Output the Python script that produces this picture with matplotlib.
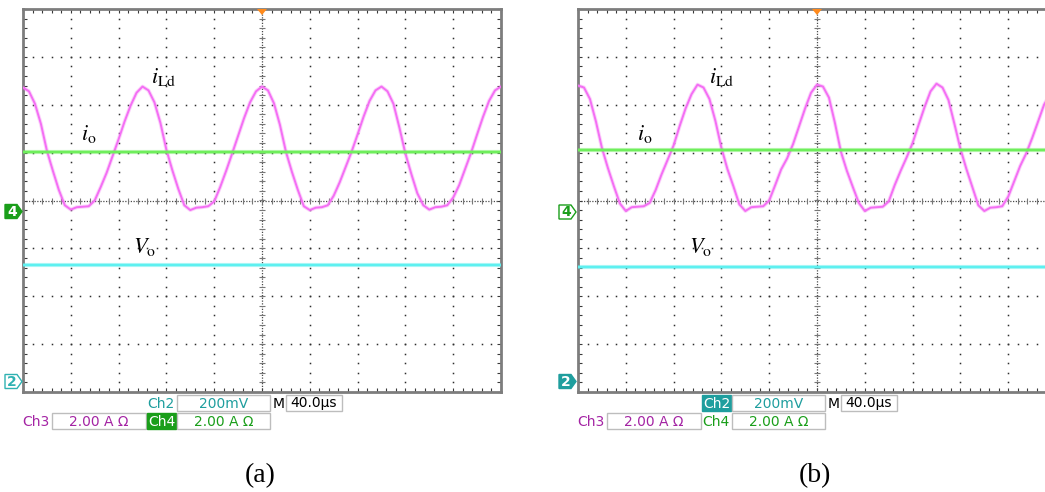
import matplotlib.pyplot as plt
import numpy as np
from matplotlib.patches import Polygon, Rectangle
from matplotlib.ticker import MultipleLocator

plt.rcParams["mathtext.fontset"] = "stix"

# ── Values ───────────────────────────────────────────────────────────────────
# x: time in µs (40 µs/div, 10 div), y: screen divisions (8 div, 0 = centre)
t_us = np.arange(-200, 201, 5)

ild_a = [2.36, 2.28, 2.02, 1.60, 1.04, 0.62, 0.22, -0.10, -0.19, -0.14,
         -0.13, -0.12, 0.00, 0.28, 0.58, 0.93, 1.28, 1.65, 1.98, 2.25,
         2.38, 2.30, 2.05, 1.62, 1.06, 0.63, 0.24, -0.10, -0.20, -0.15,
         -0.14, -0.12, -0.02, 0.28, 0.62, 0.98, 1.35, 1.72, 2.05, 2.28,
         2.38, 2.30, 2.03, 1.58, 1.02, 0.60, 0.22, -0.12, -0.20, -0.15,
         -0.14, -0.10, 0.10, 0.38, 0.70, 1.02, 1.38, 1.75, 2.08, 2.30,
         2.38, 2.28, 2.02, 1.52, 0.98, 0.55, 0.15, -0.10, -0.19, -0.14,
         -0.13, -0.10, 0.06, 0.32, 0.66, 1.00, 1.38, 1.75, 2.08, 2.30,
         2.38]

ild_b = [2.40, 2.36, 2.12, 1.65, 1.10, 0.68, 0.30, -0.06, -0.22, -0.14,
         -0.13, -0.12, -0.05, 0.22, 0.55, 0.85, 1.15, 1.55, 1.92, 2.22,
         2.42, 2.36, 2.12, 1.66, 1.10, 0.66, 0.30, -0.08, -0.22, -0.14,
         -0.13, -0.12, 0.00, 0.32, 0.65, 0.88, 1.18, 1.55, 1.92, 2.25,
         2.42, 2.38, 2.15, 1.62, 1.02, 0.62, 0.28, -0.05, -0.22, -0.15,
         -0.14, -0.13, -0.02, 0.32, 0.62, 0.90, 1.20, 1.58, 1.95, 2.28,
         2.44, 2.36, 2.10, 1.60, 1.08, 0.66, 0.28, -0.10, -0.22, -0.15,
         -0.14, -0.12, 0.08, 0.40, 0.72, 0.98, 1.30, 1.65, 2.00, 2.22,
         2.40]

io_level = {"a": 1.02, "b": 1.05}
vo_level = {"a": -1.35, "b": -1.38}

ch2_scale = "200mV"
ch3_scale = "2.00 A Ω"
ch4_scale = "2.00 A Ω"
time_scale = "40.0µs"

C_ILD = "#f46ef4"
C_IO = "#6fee5c"
C_VO = "#5ef0f0"
C_TEAL = "#1f9e9e"
C_PURPLE = "#a424a4"
C_GREEN = "#1a9e1a"

W, H = 1045, 492
fig = plt.figure(figsize=(W / 100, H / 100), dpi=100)
fig.patch.set_facecolor("white")


def px_axes(left, top, width, height):
    return fig.add_axes([left / W, 1 - (top + height) / H, width / W, height / H])


def draw_graticule(ax):
    dot = dict(ls="none", marker="s", ms=1.1, mew=0, color="#2e2e2e", zorder=1)
    minor_x = np.arange(-200, 201, 8)
    minor_y = np.arange(-4, 4.001, 0.2)
    for gx in range(-160, 161, 40):
        if gx != 0:
            ax.plot(np.full(len(minor_y), gx), minor_y, **dot)
    for gy in range(-3, 4):
        if gy != 0:
            ax.plot(minor_x, np.full(len(minor_x), gy), **dot)
    # centre cross with 0.2 div tick marks
    ax.axhline(0, color="#4a4a4a", lw=0.9, ls=(0, (1, 1.2)), zorder=1)
    ax.axvline(0, color="#4a4a4a", lw=0.9, ls=(0, (1, 1.2)), zorder=1)
    ax.plot(minor_x, np.zeros(len(minor_x)), ls="none", marker="|", ms=4.5,
            mew=0.8, color="#777777", zorder=1)
    ax.plot(np.zeros(len(minor_y)), minor_y, ls="none", marker="_", ms=4.5,
            mew=0.8, color="#777777", zorder=1)

    ax.set_xlim(-200, 200)
    ax.set_ylim(-4, 4)
    ax.xaxis.set_major_locator(MultipleLocator(40))
    ax.xaxis.set_minor_locator(MultipleLocator(8))
    ax.yaxis.set_major_locator(MultipleLocator(1))
    ax.yaxis.set_minor_locator(MultipleLocator(0.2))
    ax.tick_params(which="both", direction="in", length=3, width=0.8,
                   color="#3a3a3a", top=True, right=True,
                   labelbottom=False, labelleft=False)
    for s in ax.spines.values():
        s.set_color("#7d7d7d")
        s.set_linewidth(2.0)


def draw_panel(ax, ild, key):
    draw_graticule(ax)
    ax.plot(t_us, ild, color=C_ILD, lw=2.8, alpha=0.3, zorder=3)
    ax.plot(t_us, ild, color=C_ILD, lw=1.4, zorder=3)
    ax.plot([-200, 200], [io_level[key]] * 2, color=C_IO, lw=3.0, alpha=0.45, zorder=3)
    ax.plot([-200, 200], [io_level[key]] * 2, color=C_IO, lw=1.7, zorder=3)
    ax.plot([-200, 200], [vo_level[key]] * 2, color=C_VO, lw=3.0, alpha=0.45, zorder=3)
    ax.plot([-200, 200], [vo_level[key]] * 2, color=C_VO, lw=1.7, zorder=3)


ax_a = px_axes(23, 9, 478, 383)
ax_b = px_axes(578, 9, 478, 383)
draw_panel(ax_a, ild_a, "a")
draw_panel(ax_b, ild_b, "b")

# overlay in pixel coordinates for markers, readouts and captions
ov = fig.add_axes([0, 0, 1, 1], zorder=10)
ov.set_xlim(0, W)
ov.set_ylim(H, 0)
ov.axis("off")


def chan_marker(x0, yc, label, color, filled):
    pts = [(x0, yc - 7), (x0 + 12, yc - 7), (x0 + 17, yc),
           (x0 + 12, yc + 7), (x0, yc + 7)]
    ov.add_patch(Polygon(pts, closed=True, facecolor=color if filled else "white",
                         edgecolor=color, lw=1.0))
    ov.text(x0 + 7, yc + 0.5, label, color="white" if filled else color,
            fontsize=10, fontweight="bold", ha="center", va="center")


def box(x0, x1, y0, y1, text, color, filled=False):
    ov.add_patch(Rectangle((x0, y0), x1 - x0, y1 - y0,
                           facecolor=color if filled else "white",
                           edgecolor=color if filled else "#bdbdbd", lw=1.0))
    ov.text((x0 + x1) / 2, (y0 + y1) / 2 + 0.5, text,
            color="white" if filled else color, fontsize=10,
            ha="center", va="center")


def readout(dx, ch2_filled, ch4_filled):
    # row 1: Ch2 / M
    if ch2_filled:
        box(147 + dx, 176 + dx, 395, 411, "Ch2", C_TEAL, filled=True)
    else:
        ov.text(161 + dx, 403.5, "Ch2", color=C_TEAL, fontsize=10,
                ha="center", va="center")
    box(177 + dx, 270 + dx, 395, 411, ch2_scale, C_TEAL)
    ov.text(279 + dx, 403.5, "M", color="black", fontsize=10,
            ha="center", va="center")
    box(286 + dx, 342 + dx, 395, 411, time_scale, "black")
    # row 2: Ch3 / Ch4
    ov.text(36 + dx, 421.5, "Ch3", color=C_PURPLE, fontsize=10,
            ha="center", va="center")
    box(52 + dx, 146 + dx, 413, 429, ch3_scale, C_PURPLE)
    if ch4_filled:
        box(147 + dx, 176 + dx, 413, 429, "Ch4", C_GREEN, filled=True)
    else:
        ov.text(161 + dx, 421.5, "Ch4", color=C_GREEN, fontsize=10,
                ha="center", va="center")
    box(177 + dx, 270 + dx, 413, 429, ch4_scale, C_GREEN)


def trigger(xc):
    ov.add_patch(Polygon([(xc - 5, 9), (xc + 5, 9), (xc, 15)], closed=True,
                         facecolor="#ff8a1c", edgecolor="none"))


# panel (a)
chan_marker(5, 211.5, "4", C_GREEN, True)
chan_marker(5, 381.5, "2", "#2fb2b2", False)
trigger(262)
readout(0, ch2_filled=False, ch4_filled=True)

# panel (b)
chan_marker(559, 212, "4", C_GREEN, False)
chan_marker(559, 381.5, "2", C_TEAL, True)
trigger(817)
readout(555, ch2_filled=True, ch4_filled=False)

# waveform labels
lab = dict(fontsize=16, color="black", va="baseline", ha="left")
ov.text(151, 83, r"$i_{\mathrm{Ld}}$", **lab)
ov.text(81, 140, r"$i_{\mathrm{o}}$", **lab)
ov.text(133, 253, r"$V_{\mathrm{o}}$", **lab)
ov.text(709, 83, r"$i_{\mathrm{Ld}}$", **lab)
ov.text(637, 140, r"$i_{\mathrm{o}}$", **lab)
ov.text(689, 253, r"$V_{\mathrm{o}}$", **lab)

# captions
cap = dict(fontsize=20, family="Liberation Serif", ha="center", va="center")
ov.text(260, 476, "(a)", **cap)
ov.text(815, 476, "(b)", **cap)

fig.savefig("out.png", dpi=100, facecolor="white")
